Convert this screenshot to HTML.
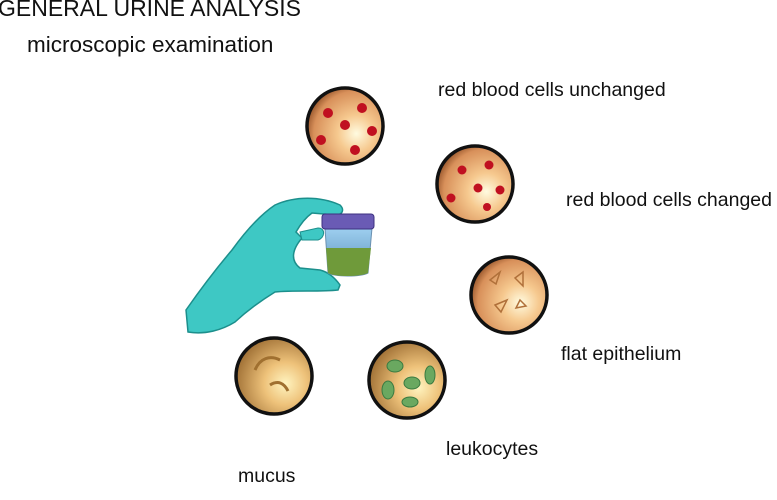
<!DOCTYPE html>
<html><head><style>
body{margin:0;width:777px;height:500px;background:#fff;position:relative;overflow:hidden;font-family:"Liberation Sans",sans-serif;color:#111}
.t{position:absolute;white-space:nowrap}
</style></head><body>
<div class="t" style="left:-2px;top:-5px;font-size:23px">GENERAL URINE ANALYSIS</div>
<div class="t" style="left:27px;top:32px;font-size:22.5px">microscopic examination</div>
<div class="t" style="left:438px;top:79px;font-size:19.5px">red blood cells unchanged</div>
<div class="t" style="left:566px;top:189px;font-size:19.5px">red blood cells changed</div>
<div class="t" style="left:561px;top:343px;font-size:19.5px">flat epithelium</div>
<div class="t" style="left:446px;top:438px;font-size:19.5px">leukocytes</div>
<div class="t" style="left:238px;top:465px;font-size:19.5px">mucus</div>
<svg width="777" height="500" style="position:absolute;left:0;top:0">
<defs>
<radialGradient id="g" cx="0.65" cy="0.6" r="0.7">
<stop offset="0" stop-color="#fffbe0"/><stop offset="0.35" stop-color="#f6c98f"/><stop offset="0.8" stop-color="#d8905a"/><stop offset="1" stop-color="#8a4a22"/></radialGradient>
<radialGradient id="m" cx="0.65" cy="0.6" r="0.7">
<stop offset="0" stop-color="#fff4c0"/><stop offset="0.4" stop-color="#eec27a"/><stop offset="1" stop-color="#9a6a30"/></radialGradient>
<linearGradient id="cup" x1="0" y1="0" x2="0" y2="1"><stop offset="0" stop-color="#9ecff0"/><stop offset="1" stop-color="#5a8fb8"/></linearGradient>
</defs>
<!-- glove -->
<path d="M188,332 L186,310 C200,290 215,270 232,250 C245,232 260,215 275,205 C295,196 320,196 340,205 C345,210 342,215 336,215 L312,213 C305,218 300,225 296,232 L302,238 C290,252 292,262 300,268 L320,270 C328,272 335,278 340,285 L338,290 C320,292 295,290 275,292 C262,300 248,310 235,322 C222,330 205,335 188,332 Z" fill="#3ec8c4" stroke="#1c8f8c" stroke-width="1.5"/>
<path d="M300,232 L318,228 C326,228 325,238 318,240 L302,240 Z" fill="#3ec8c4" stroke="#1c8f8c"/>
<!-- cup -->
<path d="M325,228 L372,228 L368,273 C360,277 335,277 328,273 Z" fill="url(#cup)" stroke="#6a90b0"/>
<path d="M326,248 L371,248 L368,273 C360,277 335,277 328,273 Z" fill="#6f9a3a"/>
<rect x="322" y="214" width="52" height="15" rx="3" fill="#6a5bb5" stroke="#3d3180"/>
<g stroke="#111" stroke-width="3.5">
<circle cx="345" cy="126" r="38" fill="url(#g)"/>
<circle cx="475" cy="184" r="38" fill="url(#g)"/>
<circle cx="509" cy="295" r="38" fill="url(#g)"/>
<circle cx="407" cy="380" r="38" fill="url(#m)"/>
<circle cx="274" cy="376" r="38" fill="url(#m)"/>
</g>
<g fill="#c01020">
<circle cx="328" cy="113" r="5"/><circle cx="362" cy="108" r="5"/><circle cx="345" cy="125" r="5"/><circle cx="321" cy="140" r="5"/><circle cx="372" cy="131" r="5"/><circle cx="355" cy="150" r="5"/>
<circle cx="462" cy="170" r="4.5"/><circle cx="489" cy="165" r="4.5"/><circle cx="478" cy="188" r="4.5"/><circle cx="451" cy="198" r="4.5"/><circle cx="500" cy="190" r="4.5"/><circle cx="487" cy="207" r="4"/>
</g>
<g fill="none" stroke="#b0703a" stroke-width="1.5">
<path d="M490,280 l10,-8 l-4,12z M515,278 l8,-6 l0,14z M495,305 l12,-5 l-6,12z M520,300 l6,6 l-10,2z"/>
</g>
<g fill="#6aa860" stroke="#3a7a40">
<ellipse cx="395" cy="366" rx="8" ry="6"/><ellipse cx="412" cy="383" rx="8" ry="6"/><ellipse cx="388" cy="390" rx="6" ry="9"/><ellipse cx="430" cy="375" rx="5" ry="9"/><ellipse cx="410" cy="402" rx="8" ry="5"/>
</g>
<g fill="none" stroke="#a07030" stroke-width="3">
<path d="M255,370 c5,-12 15,-15 25,-10 M270,385 c8,-5 14,-2 18,6"/>
</g>
</svg>
</body></html>
